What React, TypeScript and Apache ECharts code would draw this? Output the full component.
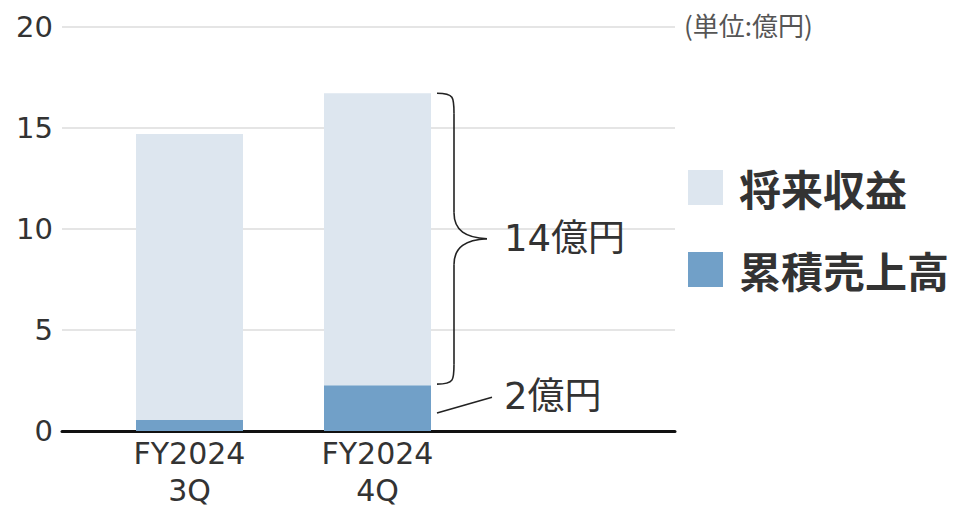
import React, { useEffect, useRef } from "react";
import * as echarts from "echarts";

const categories = ["FY2024\n3Q", "FY2024\n4Q"];
const cumulativeSales = [0.55, 2.27];
const futureRevenue = [14.15, 14.45];
const yMin = 0;
const yMax = 20;
const yInterval = 5;
const seriesNames = ["将来収益", "累積売上高"];
const futureLabel = "14億円";
const salesLabel = "2億円";
const unitLabel = "(単位:億円)";

const NUM_FONT = "'DejaVu Sans', 'Noto Sans CJK JP', sans-serif";
const JP_FONT = "'Noto Sans CJK JP', sans-serif";
const TEXT = "#333333";
const LIGHT = "#dde6ef";
const DARK = "#71a0c8";

export default function App() {
  const ref = useRef<HTMLDivElement>(null);
  useEffect(() => {
    if (!ref.current) return;
    const chart = echarts.init(ref.current, null, { renderer: "svg" });
    const gridTop = 27;
    const gridHeight = 404;
    chart.setOption({
      animation: false,
      grid: [
        { left: 62, top: gridTop, width: 613, height: gridHeight, outerBoundsMode: "none", containLabel: false },
        { left: 95.5, top: gridTop, width: 564, height: gridHeight, outerBoundsMode: "none", containLabel: false },
      ],
      legend: {
        orient: "vertical",
        left: 688,
        top: 166.5,
        itemWidth: 35,
        itemHeight: 35,
        itemGap: 40,
        padding: 0,
        icon: "rect",
        data: seriesNames,
        textStyle: {
          fontFamily: JP_FONT,
          fontSize: 42,
          fontWeight: "bold",
          color: TEXT,
          padding: [0, 0, 0, 11],
        },
        selectedMode: false,
      },
      xAxis: [
        {
          gridIndex: 0,
          type: "value",
          min: 0,
          max: 1,
          axisLine: { show: true, onZero: false, lineStyle: { color: "#111", width: 3 } },
          axisTick: { show: false },
          axisLabel: { show: false },
          splitLine: { show: false },
        },
        {
          gridIndex: 1,
          type: "category",
          data: [...categories, ""],
          axisLine: { show: false },
          axisTick: { show: false },
          axisLabel: {
            margin: 4,
            fontFamily: NUM_FONT,
            fontSize: 30,
            lineHeight: 37,
            color: TEXT,
          },
        },
      ],
      yAxis: [
        {
          gridIndex: 0,
          type: "value",
          min: yMin,
          max: yMax,
          interval: yInterval,
          axisLine: { show: false },
          axisTick: { show: false },
          axisLabel: {
            margin: 9,
            fontFamily: NUM_FONT,
            fontSize: 29,
            color: TEXT,
          },
          splitLine: { lineStyle: { color: "#dddddd", width: 1.5 } },
        },
        {
          gridIndex: 1,
          type: "value",
          min: yMin,
          max: yMax,
          interval: yInterval,
          show: false,
          splitLine: { show: false },
        },
      ],
      series: [
        {
          name: seriesNames[1],
          type: "bar",
          stack: "total",
          xAxisIndex: 1,
          yAxisIndex: 1,
          barWidth: 107,
          itemStyle: { color: DARK },
          data: cumulativeSales,
        },
        {
          name: seriesNames[0],
          type: "bar",
          stack: "total",
          xAxisIndex: 1,
          yAxisIndex: 1,
          barWidth: 107,
          itemStyle: { color: LIGHT },
          data: futureRevenue,
        },
      ],
    });

    const i = 1;
    const total = cumulativeSales[i] + futureRevenue[i];
    const pTop = chart.convertToPixel({ xAxisIndex: 1, yAxisIndex: 1 }, [i, total]) as number[];
    const pMid = chart.convertToPixel({ xAxisIndex: 1, yAxisIndex: 1 }, [i, cumulativeSales[i]]) as number[];
    const pZero = chart.convertToPixel({ xAxisIndex: 1, yAxisIndex: 1 }, [i, 0]) as number[];
    const x0 = pTop[0] + 107 / 2 + 6;
    const yT = pTop[1];
    const yB = pMid[1] - 1;
    const yM = (yT + yB) / 2;
    const xv = x0 + 17;
    const xt = x0 + 50;
    const st = { stroke: "#222", lineWidth: 1.6, fill: "none" };
    const r = 20;
    const graphic: any[] = [
      {
        type: "text",
        left: 684,
        top: 11,
        style: { text: unitLabel, fontFamily: JP_FONT, fontSize: 26, fill: "#555" },
      },
      { type: "bezierCurve", shape: { x1: x0, y1: yT, cpx1: xv, cpy1: yT, cpx2: xv, cpy2: yT + 4, x2: xv, y2: yT + r }, style: st },
      { type: "line", shape: { x1: xv, y1: yT + r, x2: xv, y2: yM - 26 }, style: st },
      { type: "bezierCurve", shape: { x1: xv, y1: yM - 26, cpx1: xv, cpy1: yM - 8, cpx2: xv + 12, cpy2: yM - 1, x2: xt, y2: yM }, style: st },
      { type: "bezierCurve", shape: { x1: xt, y1: yM, cpx1: xv + 12, cpy1: yM + 1, cpx2: xv, cpy2: yM + 8, x2: xv, y2: yM + 26 }, style: st },
      { type: "line", shape: { x1: xv, y1: yM + 26, x2: xv, y2: yB - r }, style: st },
      { type: "bezierCurve", shape: { x1: xv, y1: yB - r, cpx1: xv, cpy1: yB - 4, cpx2: xv, cpy2: yB, x2: x0, y2: yB }, style: st },
      {
        type: "text",
        x: x0 + 67,
        y: yM,
        style: { text: futureLabel, fontFamily: NUM_FONT, fontSize: 37, fill: TEXT, verticalAlign: "middle" },
      },
      {
        type: "line",
        shape: { x1: x0, y1: (pMid[1] + pZero[1]) / 2 + 5, x2: x0 + 55, y2: yB + 13 },
        style: st,
      },
      {
        type: "text",
        x: x0 + 67,
        y: yB + 12,
        style: { text: salesLabel, fontFamily: NUM_FONT, fontSize: 37, fill: TEXT, verticalAlign: "middle" },
      },
    ];
    chart.setOption({ graphic });
    return () => chart.dispose();
  }, []);
  return (
    <div
      ref={ref}
      style={{ position: "fixed", left: 0, top: 0, width: 961, height: 511, background: "#fff" }}
    />
  );
}
